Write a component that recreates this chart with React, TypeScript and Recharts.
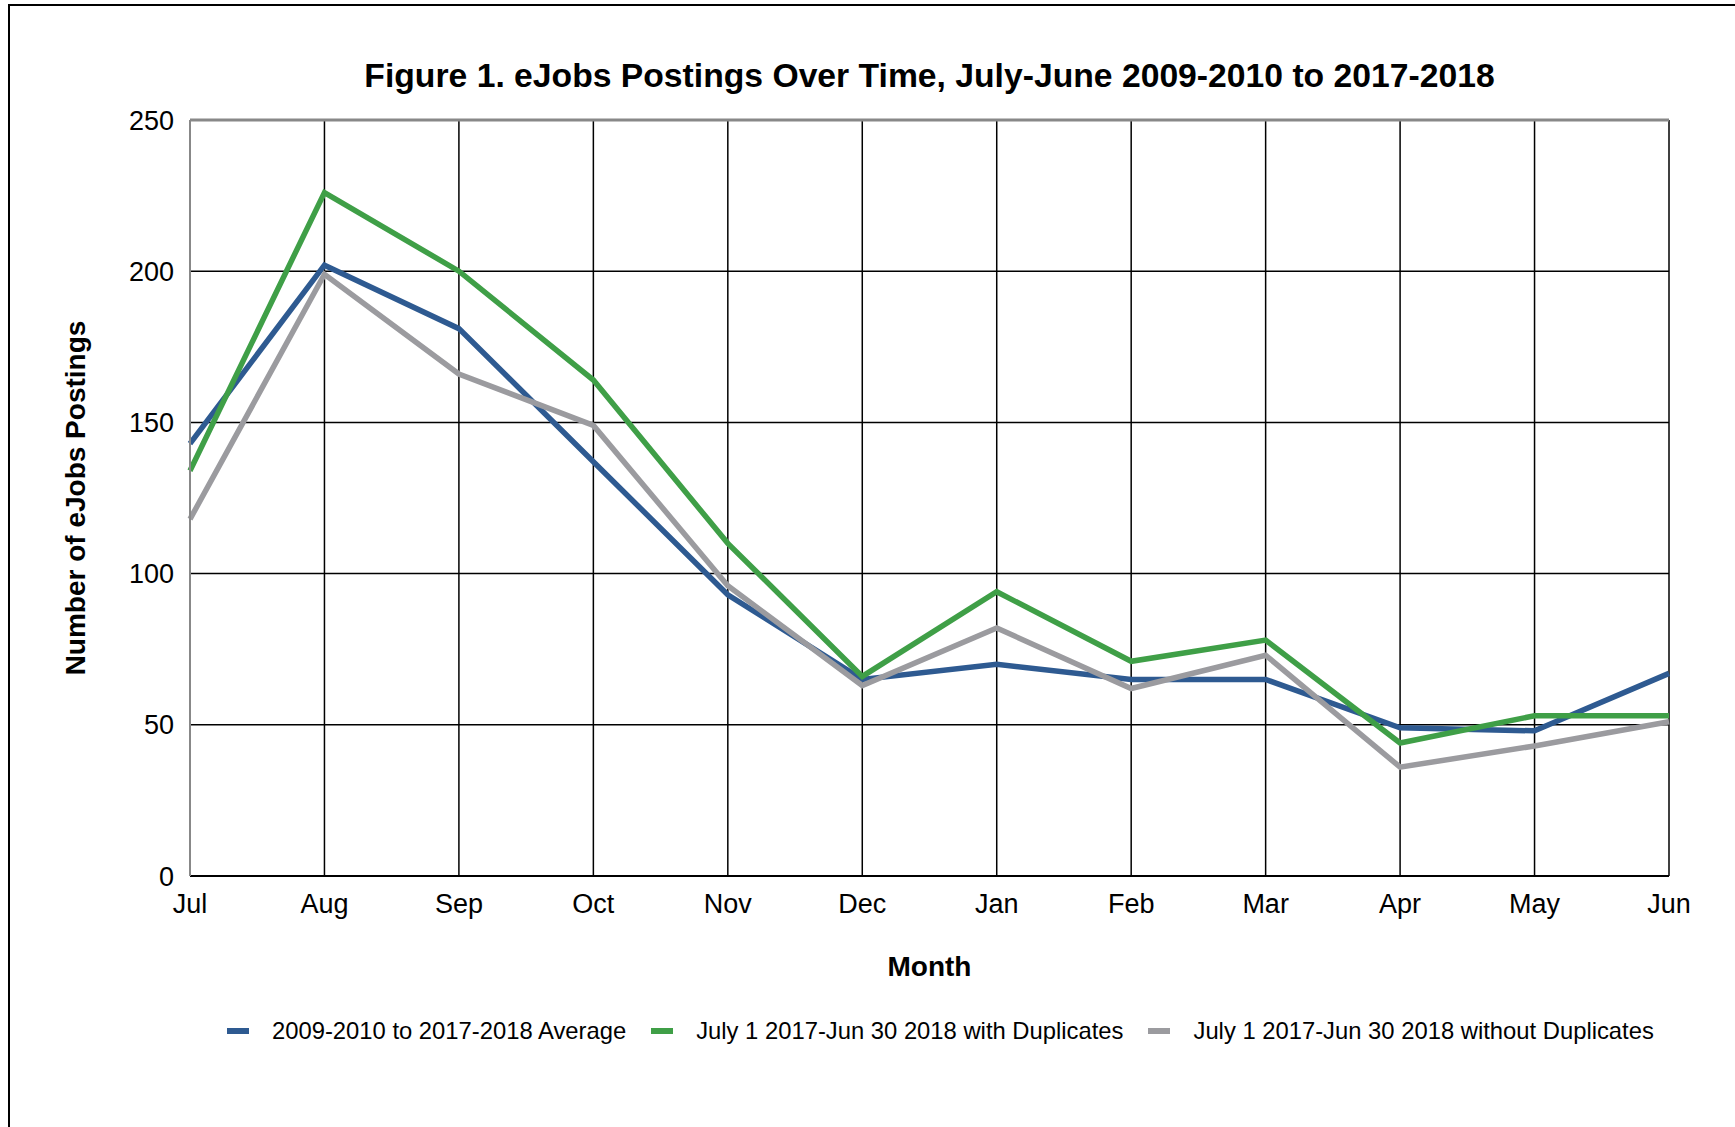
import React from "react";
import {
  LineChart,
  Line,
  XAxis,
  YAxis,
  CartesianGrid,
  ReferenceLine,
} from "recharts";

// ─── Data ─────────────────────────────────────────────────────────────────────

const months = ["Jul", "Aug", "Sep", "Oct", "Nov", "Dec", "Jan", "Feb", "Mar", "Apr", "May", "Jun"];
const average = [143, 202, 181, 137, 93, 65, 70, 65, 65, 49, 48, 67];
const withDuplicates = [134, 226, 200, 164, 110, 66, 94, 71, 78, 44, 53, 53];
const withoutDuplicates = [118, 199, 166, 149, 96, 63, 82, 62, 73, 36, 43, 51];
const yTicks = [0, 50, 100, 150, 200, 250];

const series = [
  { key: "avg", name: "2009-2010 to 2017-2018 Average", color: "#2e5a91" },
  { key: "dup", name: "July 1 2017-Jun 30 2018 with Duplicates", color: "#3f9f47" },
  { key: "nodup", name: "July 1 2017-Jun 30 2018 without Duplicates", color: "#9b9b9f" },
];

const data = months.map((m, i) => ({
  month: m,
  avg: average[i],
  dup: withDuplicates[i],
  nodup: withoutDuplicates[i],
}));

const FONT = "'Liberation Sans', Arial, sans-serif";

export default function App() {
  return (
    <div
      style={{
        position: "absolute",
        left: 0,
        top: 0,
        width: 1735,
        height: 1127,
        background: "#fff",
        fontFamily: FONT,
        overflow: "hidden",
      }}
    >
      {/* frame */}
      <div
        style={{
          position: "absolute",
          left: 8,
          top: 4,
          width: 1735,
          height: 1200,
          borderTop: "2px solid #000",
          borderLeft: "2px solid #000",
        }}
      />

      {/* title */}
      <div
        style={{
          position: "absolute",
          top: 56,
          left: 190,
          width: 1479,
          textAlign: "center",
          fontSize: 33.7,
          fontWeight: "bold",
          color: "#000",
        }}
      >
        Figure 1. eJobs Postings Over Time, July-June 2009-2010 to 2017-2018
      </div>

      <div style={{ position: "absolute", left: 0, top: 0 }}>
        <LineChart
          width={1735}
          height={1127}
          data={data}
          margin={{ top: 120, right: 66, bottom: 191, left: 60 }}
        >
          <CartesianGrid stroke="#000" strokeWidth={1.5} />
          <XAxis
            dataKey="month"
            height={60}
            tickLine={false}
            axisLine={{ stroke: "#000", strokeWidth: 2 }}
            tick={{ fill: "#000", fontSize: 27, fontFamily: FONT }}
            tickMargin={12}
            interval={0}
            label={{
              value: "Month",
              position: "insideBottom",
              offset: -40,
              style: { fill: "#000", fontSize: 28, fontWeight: "bold", fontFamily: FONT },
            }}
          />
          <YAxis
            width={130}
            domain={[0, 250]}
            ticks={yTicks}
            tickLine={false}
            axisLine={{ stroke: "#888", strokeWidth: 2 }}
            tick={{ fill: "#000", fontSize: 27, fontFamily: FONT }}
            tickMargin={10}
            label={{
              value: "Number of eJobs Postings",
              angle: -90,
              position: "insideLeft",
              offset: 15,
              style: { fill: "#000", fontSize: 28, fontWeight: "bold", fontFamily: FONT, textAnchor: "middle" },
            }}
          />
          <ReferenceLine y={250} stroke="#888" strokeWidth={3} />
          {series.map((s) => (
            <Line
              key={s.key}
              dataKey={s.key}
              name={s.name}
              stroke={s.color}
              strokeWidth={5.5}
              dot={false}
              activeDot={false}
              isAnimationActive={false}
            />
          ))}
        </LineChart>
      </div>

      {/* legend */}
      <div
        style={{
          position: "absolute",
          top: 1017,
          left: 227,
          display: "flex",
          alignItems: "center",
          fontSize: 23.8,
          color: "#000",
          whiteSpace: "nowrap",
        }}
      >
        {series.map((s, i) => (
          <div
            key={s.key}
            style={{ display: "flex", alignItems: "center", marginLeft: i === 0 ? 0 : 25 }}
          >
            <span
              style={{
                display: "inline-block",
                width: 22,
                height: 6,
                background: s.color,
                marginRight: 23,
              }}
            />
            <span>{s.name}</span>
          </div>
        ))}
      </div>
    </div>
  );
}
